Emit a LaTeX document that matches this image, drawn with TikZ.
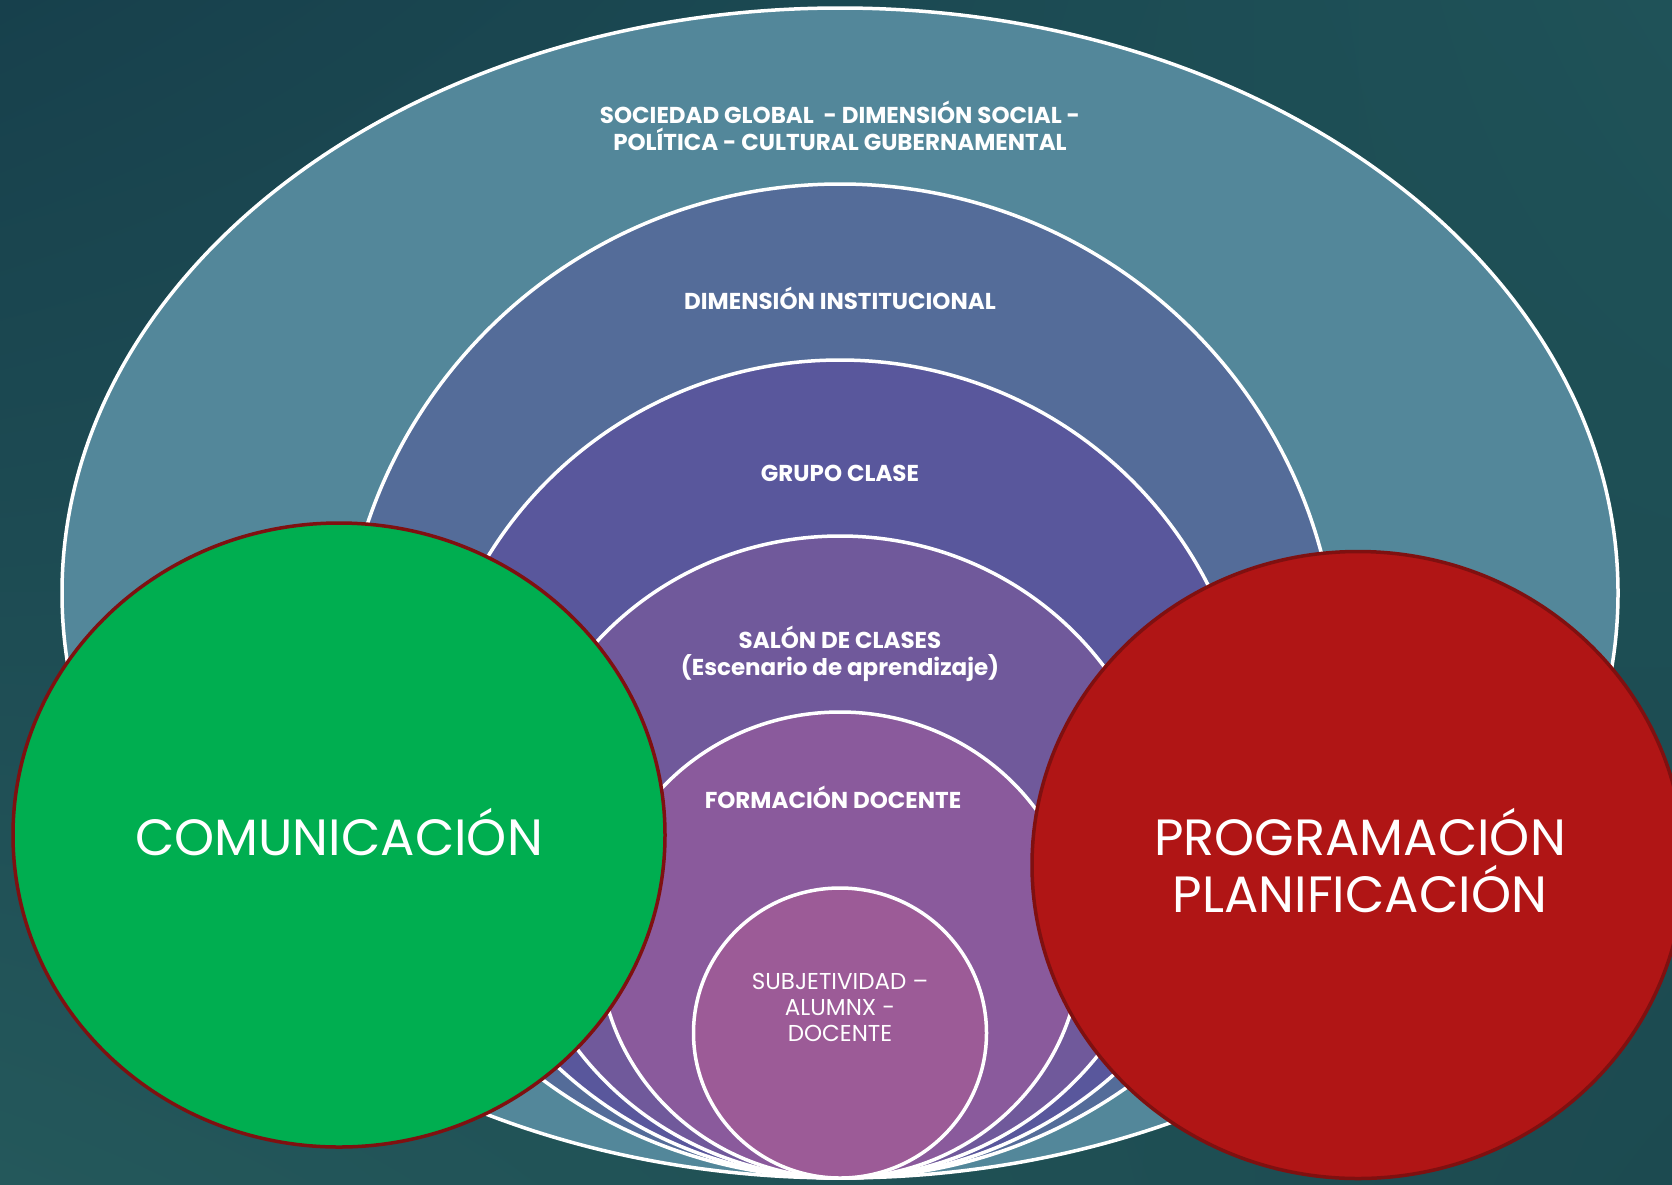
\documentclass[tikz,border=0pt]{standalone}
\usepackage{fontspec}
\setmainfont{Poppins}
\usetikzlibrary{shapes.geometric,shadings}
\definecolor{bgA}{HTML}{17404C}
\definecolor{bgB}{HTML}{1F5258}
\definecolor{bgC}{HTML}{24585B}
\definecolor{bgD}{HTML}{1C4A50}
\definecolor{lvA}{HTML}{53879A}
\definecolor{lvB}{HTML}{546C99}
\definecolor{lvC}{HTML}{59579C}
\definecolor{lvD}{HTML}{70599B}
\definecolor{lvE}{HTML}{8A5A9C}
\definecolor{lvF}{HTML}{9C5B97}
\definecolor{grn}{HTML}{00AE50}
\definecolor{rd}{HTML}{B01515}
\definecolor{rim}{HTML}{7F1010}
\tikzset{
  ring/.style={ellipse, draw=white, line width=3.5pt, inner sep=0pt},
  bigc/.style={ellipse, draw=rim, line width=3.5pt, inner sep=0pt},
  head/.style={text=white, align=center, font=\bfseries\fontsize{23}{27}\selectfont},
  thin/.style={text=white, align=center, font=\fontsize{23}{26}\selectfont},
  huge/.style={text=white, align=center, font=\fontsize{51}{57}\selectfont},
}
\begin{document}
\begin{tikzpicture}[x=1pt,y=-1pt]
\useasboundingbox (0,0) rectangle (1672,1184);
\clip (0,0) rectangle (1672,1184);
\shade[upper left=bgA, upper right=bgB, lower left=bgC, lower right=bgD] (0,0) rectangle (1672,1184);
\node[ring, fill=lvA, minimum width=1556pt, minimum height=1170pt] (e1) at (840,593) {};
\node[ring, fill=lvB, minimum width=996pt, minimum height=994pt] (e2) at (840,681) {};
\node[ring, fill=lvC, minimum width=824pt, minimum height=818pt] (e3) at (840,769) {};
\node[ring, fill=lvD, minimum width=656pt, minimum height=642pt] (e4) at (840,857) {};
\node[ring, fill=lvE, minimum width=482pt, minimum height=466pt] (e5) at (840,945) {};
\node[ring, fill=lvF, minimum width=293pt, minimum height=290pt] (e6) at (840,1033) {};
\node[bigc, fill=grn, minimum width=652pt, minimum height=624pt] (g) at (339,835) {};
\node[bigc, fill=rd, minimum width=652pt, minimum height=627pt] (r) at (1358,865) {};
\node[head] (t1) at (840,126) {SOCIEDAD GLOBAL \ - DIMENSIÓN SOCIAL -\\POLÍTICA - CULTURAL GUBERNAMENTAL};
\node[head] (t2) at (840,298) {DIMENSIÓN INSTITUCIONAL};
\node[head] (t3) at (840,473) {GRUPO CLASE};
\node[head] (t4) at (840,654) {SALÓN DE CLASES\\(Escenario de aprendizaje)};
\node[head] (t5) at (833,797) {FORMACIÓN DOCENTE};
\node[thin] (t6) at (840,1007) {SUBJETIVIDAD –\\ALUMNX -\\DOCENTE};
\node[huge] (t7) at (339,832) {COMUNICACIÓN};
\node[huge] (t8) at (1360,861) {PROGRAMACIÓN\\PLANIFICACIÓN};
\end{tikzpicture}
\end{document}
